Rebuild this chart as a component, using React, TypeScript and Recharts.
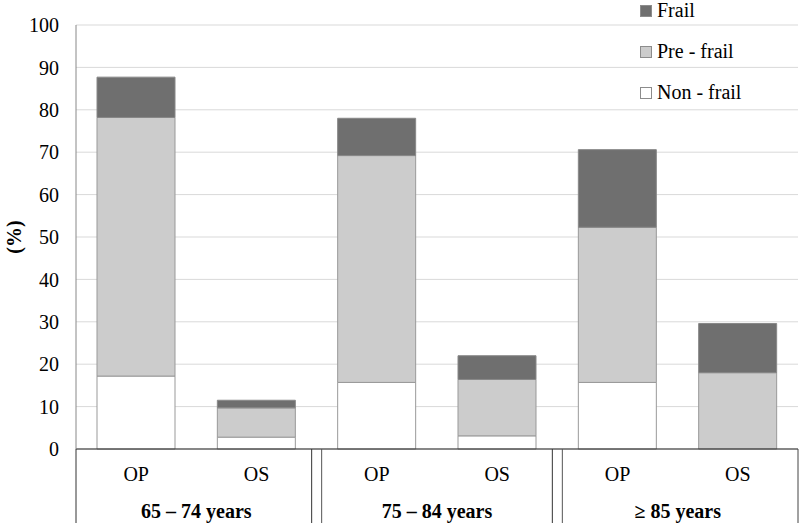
import { Bar, BarChart, CartesianGrid, Legend, XAxis, YAxis } from 'recharts';

const categories = ['OP', 'OS', 'OP', 'OS', 'OP', 'OS'];
const ageGroups = ['65 – 74 years', '75 – 84 years', '≥ 85 years'];
const nonFrail = [17.2, 2.8, 15.7, 3.1, 15.7, 0];
const preFrail = [61.0, 6.9, 53.5, 13.3, 36.6, 18.0];
const frail = [9.5, 1.8, 8.8, 5.6, 18.3, 11.6];
const yTicks = [0, 10, 20, 30, 40, 50, 60, 70, 80, 90, 100];
const legendOrder = ['Frail', 'Pre - frail', 'Non - frail'];

const data = categories.map((sub, i) => ({
  sub,
  nonFrail: nonFrail[i],
  preFrail: preFrail[i],
  frail: frail[i],
}));

const FONT = 'Liberation Serif, Tinos, DejaVu Serif, serif';

function CategoryTick(props: any) {
  const { x, y, payload } = props;
  const i = payload.index;
  const half = payload.offset ?? 60;
  const bottom = y + 74;
  const left = x - half;
  return (
    <g>
      <text x={x} y={y + 32} textAnchor="middle" fontSize={20} fontFamily={FONT} fill="#000">
        {payload.value}
      </text>
      {i % 2 === 0 && (
        <text
          x={x + half}
          y={y + 69}
          textAnchor="middle"
          fontSize={20}
          fontWeight="bold"
          fontFamily={FONT}
          fill="#000">
          {ageGroups[i / 2]}
        </text>
      )}
      {i === 0 && <line x1={left} x2={left} y1={y} y2={bottom} stroke="#333" />}
      {i % 2 === 0 && i > 0 && (
        <>
          <line x1={left - 5} x2={left - 5} y1={y} y2={bottom} stroke="#333" />
          <line x1={left + 5} x2={left + 5} y1={y} y2={bottom} stroke="#555" />
        </>
      )}
      {i === categories.length - 1 && (
        <line x1={x + half} x2={x + half} y1={y} y2={bottom} stroke="#444" />
      )}
    </g>
  );
}

function LegendBox(props: any) {
  const items = [...(props.payload ?? [])].sort(
    (a: any, b: any) => legendOrder.indexOf(a.value) - legendOrder.indexOf(b.value),
  );
  return (
    <div style={{ fontFamily: FONT, fontSize: 20, color: '#000' }}>
      {items.map((item: any) => (
        <div
          key={item.value}
          style={{ height: 41, display: 'flex', alignItems: 'center' }}>
          <span
            style={{
              display: 'inline-block',
              width: 10,
              height: 10,
              background: item.color,
              border: '1px solid #8c8c8c',
              marginRight: 5,
            }}
          />
          <span>{item.value}</span>
        </div>
      ))}
    </div>
  );
}

export default function App() {
  return (
    <div style={{ position: 'absolute', left: 0, top: 0, background: '#fff', fontFamily: FONT }}>
      <BarChart
        width={800}
        height={523}
        data={data}
        margin={{ top: 25, right: 2, bottom: 0, left: 0 }}
        style={{ fontFamily: FONT }}>
        <CartesianGrid vertical={false} stroke="#d9d9d9" />
        <XAxis
          dataKey="sub"
          height={74}
          interval={0}
          tickLine={false}
          tickSize={0}
          tickMargin={0}
          axisLine={{ stroke: '#222' }}
          tick={<CategoryTick />}
        />
        <YAxis
          width={76}
          domain={[0, 100]}
          ticks={yTicks}
          tickLine={false}
          tickSize={0}
          tickMargin={17}
          axisLine={{ stroke: '#888' }}
          tick={{ fontSize: 20, fill: '#000', fontFamily: FONT }}
          label={{
            value: '(%)',
            angle: -90,
            position: 'center',
            dx: -24,
            fontSize: 20,
            fontWeight: 'bold',
            fill: '#000',
            fontFamily: FONT,
          }}
        />
        <Legend
          layout="vertical"
          align="center"
          verticalAlign="middle"
          wrapperStyle={{ top: -10, left: 640, width: 160 }}
          content={<LegendBox />}
        />
        <Bar
          dataKey="nonFrail"
          name="Non - frail"
          stackId="a"
          fill="#ffffff"
          stroke="#999"
          barSize={78}
          isAnimationActive={false}
        />
        <Bar
          dataKey="preFrail"
          name="Pre - frail"
          stackId="a"
          fill="#cccccc"
          stroke="#999"
          barSize={78}
          isAnimationActive={false}
        />
        <Bar
          dataKey="frail"
          name="Frail"
          stackId="a"
          fill="#6f6f6f"
          stroke="#888"
          barSize={78}
          isAnimationActive={false}
        />
      </BarChart>
    </div>
  );
}
